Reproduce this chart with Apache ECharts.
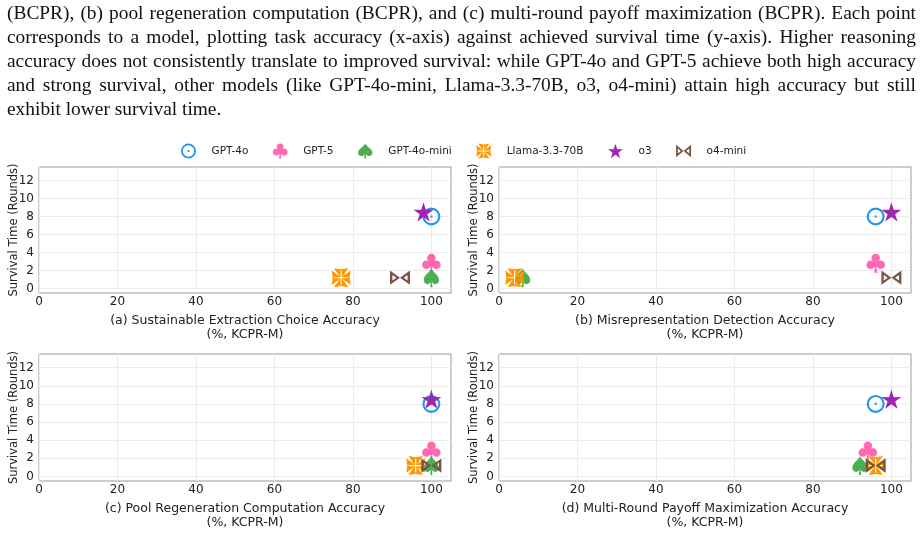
<!DOCTYPE html>
<html>
<head>
<meta charset="utf-8">
<title>Accuracy vs survival</title>
<script src="https://cdn.jsdelivr.net/npm/echarts@6.0.0/dist/echarts.min.js"></script>
<style>
  html, body { margin: 0; padding: 0; background: #fff; }
  #wrap { position: relative; width: 921px; height: 534px; overflow: hidden; }
  #chart { position: absolute; left: 0; top: 0; width: 921px; height: 534px; }
  #caption { position: absolute; left: 7px; top: 0.5px; width: 909px; font-family: 'Liberation Serif', serif; font-size: 19.4px; color: #111; }
  #caption .ln { height: 24.1px; line-height: 24.1px; text-align: justify; text-align-last: justify; }
  #caption .ln.last { text-align-last: left; }
</style>
</head>
<body>
<div id="wrap">
  <div id="chart"></div>
  <div id="caption">
    <div class="ln">(BCPR), (b) pool regeneration computation (BCPR), and (c) multi-round payoff maximization (BCPR). Each point</div>
    <div class="ln">corresponds to a model, plotting task accuracy (x-axis) against achieved survival time (y-axis). Higher reasoning</div>
    <div class="ln">accuracy does not consistently translate to improved survival: while GPT-4o and GPT-5 achieve both high accuracy</div>
    <div class="ln">and strong survival, other models (like GPT-4o-mini, Llama-3.3-70B, o3, o4-mini) attain high accuracy but still</div>
    <div class="ln last">exhibit lower survival time.</div>
  </div>
</div>
<script>
  // models and survival time (rounds)
  const models = ['GPT-4o', 'GPT-5', 'GPT-4o-mini', 'Llama-3.3-70B', 'o3', 'o4-mini']
  const survival = [8.0, 2.8, 1.2, 1.2, 8.5, 1.2]
  // task accuracy (%) per panel, same model order
  const accExtraction = [100, 100, 100, 77, 98, 92]
  const accMisrep = [96, 96, 6, 4, 100, 100]
  const accPool = [100, 100, 100, 96, 100, 100]
  const accPayoff = [96, 94, 92, 96, 100, 96]
  const panelTitles = [
    '(a) Sustainable Extraction Choice Accuracy\n(%, KCPR-M)',
    '(b) Misrepresentation Detection Accuracy\n(%, KCPR-M)',
    '(c) Pool Regeneration Computation Accuracy\n(%, KCPR-M)',
    '(d) Multi-Round Payoff Maximization Accuracy\n(%, KCPR-M)'
  ]
  const xTicks = [0, 20, 40, 60, 80, 100]
  const yTicks = [0, 2, 4, 6, 8, 10, 12]

  const panels = [accExtraction, accMisrep, accPool, accPayoff]
  const colors = ['#2196f3', '#ff69b4', '#4caf50', '#ff9800', '#9c27b0', '#795548']

  // marker shapes (odot, club, spade, maltese, star, bowtie)
  const symbols = [
    'path://M50,0A50,50,0,1,1,50,100A50,50,0,1,1,50,0ZM50,12A38,38,0,1,0,50,88A38,38,0,1,0,50,12ZM44,44L56,44L56,56L44,56Z',
    'path://M50,2A22,22,0,1,1,50,46A22,22,0,1,1,50,2ZM24,36A22,22,0,1,1,24,80A22,22,0,1,1,24,36ZM76,36A22,22,0,1,1,76,80A22,22,0,1,1,76,36ZM40,40L60,40L62,70L38,70ZM47,66L53,66L58,100L42,100Z',
    'path://M50,0C45,18,2,35,2,62C2,80,22,90,38,80C42,77,45,74,47,72L43,100L57,100L53,72C55,74,58,77,62,80C78,90,98,80,98,62C98,35,55,18,50,0Z',
    'path://M12,0L50,6L88,0L58,42L100,12L94,50L100,88L58,58L88,100L50,94L12,100L42,58L0,88L6,50L0,12L42,42ZM47,14L47,47L14,47L14,53L47,53L47,86L53,86L53,53L86,53L86,47L53,47L53,14Z',
    'path://M50,0L61.17,34.63L97.55,34.55L68.07,55.87L79.39,90.45L50,69L20.61,90.45L31.93,55.87L2.45,34.55L38.83,34.63Z',
    'path://M0,0L50,42L0,84ZM12,25.8L12,58.2L31.3,42ZM100,0L100,84L50,42ZM88,25.8L68.7,42L88,58.2Z'
  ]
  const sizes = [[18, 18], [19, 19], [16, 19], [19, 19], [20, 20], [20, 17]]

  const font = 'DejaVu Sans'
  const textColor = '#222'

  const grids = [
    { left: 39, top: 167, width: 412, height: 126 },
    { left: 499, top: 167, width: 412, height: 126 },
    { left: 39, top: 354, width: 412, height: 127 },
    { left: 499, top: 354, width: 412, height: 127 }
  ]

  let xAxes = [], yAxes = [], series = []
  panels.forEach(function (acc, p) {
    xAxes.push({
      type: 'value', gridIndex: p, min: 0, max: 105,
      name: panelTitles[p], nameLocation: 'middle', nameGap: 21, nameMoveOverlap: false,
      nameTextStyle: { fontFamily: font, fontSize: 12.5, lineHeight: 13.5, color: textColor },
      axisLine: { show: false },
      axisTick: { show: false, customValues: xTicks },
      axisLabel: { customValues: xTicks, margin: 3, fontFamily: font, fontSize: 12, color: textColor },
      splitLine: { show: true, lineStyle: { color: '#ebebeb', width: 1 } }
    })
    yAxes.push({
      type: 'value', gridIndex: p, min: -0.5, max: 13.5,
      name: 'Survival Time (Rounds)', nameLocation: 'middle', nameGap: 18.5, nameMoveOverlap: false,
      nameTextStyle: { fontFamily: font, fontSize: 11.5, color: textColor },
      axisLine: { show: false },
      axisTick: { show: false, customValues: yTicks },
      axisLabel: { customValues: yTicks, margin: 5, fontFamily: font, fontSize: 12, color: textColor },
      splitLine: { show: true, lineStyle: { color: '#ebebeb', width: 1 } }
    })
    models.forEach(function (m, i) {
      series.push({
        type: 'scatter', name: m, xAxisIndex: p, yAxisIndex: p,
        data: [[acc[i], survival[i]]],
        symbol: symbols[i], symbolSize: sizes[i], symbolKeepAspect: true,
        itemStyle: { color: colors[i], opacity: 1 },
        emphasis: { disabled: true },
        animation: false
      })
    })
  })

  let chart = echarts.init(document.getElementById('chart'), null, { renderer: 'canvas' })
  chart.setOption({
    backgroundColor: '#fff',
    animation: false,
    legend: {
      data: models, left: 181, top: 143.5, padding: 0,
      itemWidth: 15, itemHeight: 15, itemGap: 24.5,
      textStyle: { fontFamily: font, fontSize: 10.5, color: textColor, padding: [0, 0, 0, 10.5] }
    },
    grid: grids.map(function (g) {
      return Object.assign({ show: true, borderColor: '#999', borderWidth: 1, backgroundColor: 'transparent' }, g)
    }),
    xAxis: xAxes,
    yAxis: yAxes,
    series: series
  })
</script>
</body>
</html>
